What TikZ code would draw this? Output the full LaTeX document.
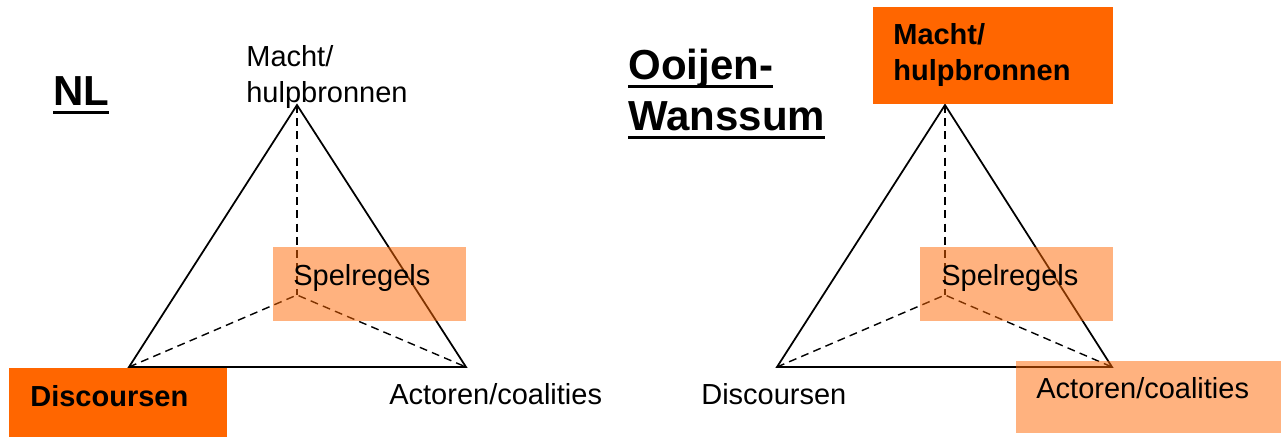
\documentclass[tikz,border=0pt]{standalone}
\usepackage{fontspec}
\setmainfont{Liberation Sans}
\usepackage{tikz}
\usetikzlibrary{positioning,fit,calc}
\definecolor{hotorange}{RGB}{255,102,0}
\newcommand{\titleul}[1]{\setbox0\hbox{#1}\rlap{\rule[-0.22em]{\wd0}{0.088em}}\box0}
\tikzset{
  hotbox/.style={fill=hotorange, inner sep=0pt},
  softbox/.style={fill=hotorange, fill opacity=0.5, inner sep=0pt},
  cornertext/.style={anchor=base west, inner sep=0pt, align=left, font=\fontsize{16.5}{20}\selectfont},
  hottext/.style={cornertext, font=\fontsize{16.5}{20}\selectfont\bfseries},
  titletext/.style={anchor=base west, inner sep=0pt, align=left, font=\fontsize{23.9}{29}\selectfont\bfseries},
  edge/.style={line width=1pt},
  hidden/.style={line width=0.8pt, dash pattern=on 4.5pt off 3pt}
}
\begin{document}
\begin{tikzpicture}[x=0.02cm, y=-0.02cm]
\useasboundingbox (0,0) rectangle (1282,437);

% NL
\coordinate (ltop) at (297,105);
\coordinate (lleft) at (129,367);
\coordinate (lright) at (466,367);
\coordinate (lmid) at (297,295);
\draw[edge] (ltop) -- (lright) -- (lleft) -- cycle;
\draw[hidden] (ltop) -- (lmid);
\draw[hidden] (lleft) -- (lmid) -- (lright);

\node[softbox, fit={(273,247)(466,321)}] (lrules) {};
\node[hotbox, fit={(9,368)(227,437)}] (ldisc) {};

% multi-line texts: base is the last line
\node[titletext] (ltitle) at (53,105) {\titleul{NL}};
\node[cornertext] (lpower) at (246,102) {Macht/\\hulpbronnen};
\node[cornertext] (lrulestxt) at (293,285) {Spelregels};
\node[hottext] (ldisctxt) at (30,406) {Discoursen};
\node[cornertext] (lactors) at (389,404) {Actoren/coalities};

% Ooijen-Wanssum
\coordinate (rtop) at (945,105);
\coordinate (rleft) at (777,367);
\coordinate (rright) at (1112,367);
\coordinate (rmid) at (945,295);
\draw[edge] (rtop) -- (rright) -- (rleft) -- cycle;
\draw[hidden] (rtop) -- (rmid);
\draw[hidden] (rleft) -- (rmid) -- (rright);

\node[hotbox, fit={(873,7)(1113,104)}] (rpower) {};
\node[softbox, fit={(920,247)(1113,321)}] (rrules) {};
\node[softbox, fit={(1016,361)(1281,433)}] (ractors) {};

\node[titletext] (rtitle) at (628,130) {\titleul{Ooijen-}\\\titleul{Wanssum}};
\node[hottext] (rpowertxt) at (893,80) {Macht/\\hulpbronnen};
\node[cornertext] (rrulestxt) at (941,285) {Spelregels};
\node[cornertext] (ractorstxt) at (1036,398) {Actoren/coalities};
\node[cornertext] (rdisc) at (701,404) {Discoursen};
\end{tikzpicture}
\end{document}
